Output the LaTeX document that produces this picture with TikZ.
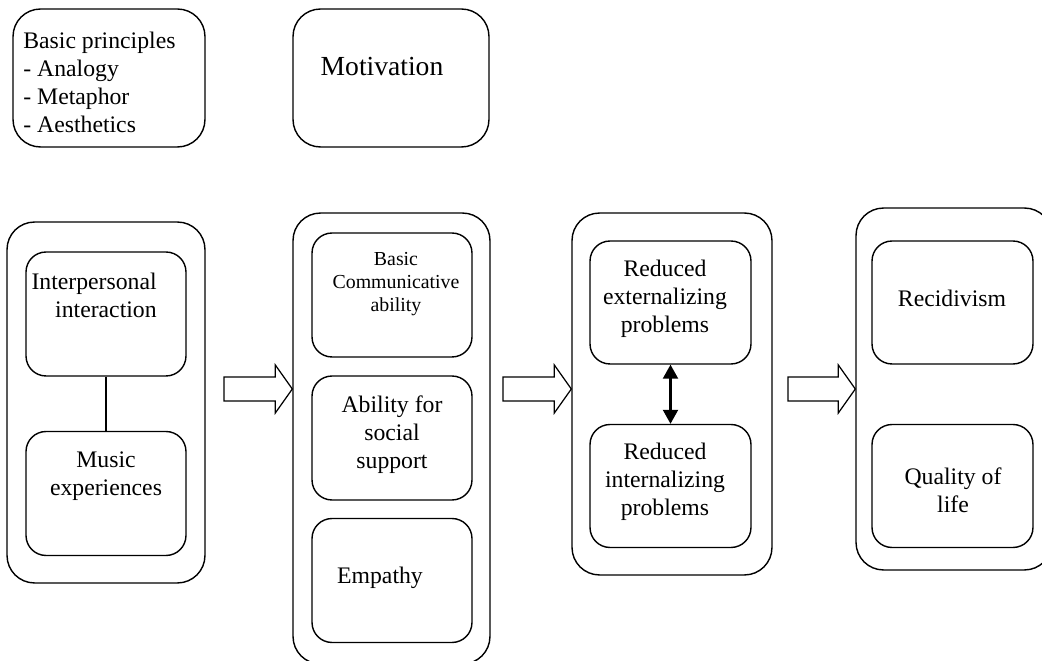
\documentclass[tikz,border=0pt]{standalone}
\usepackage{fontspec}
\setmainfont{Liberation Serif}
\usetikzlibrary{calc,arrows.meta}
\newcommand{\fatarrow}[2]{\draw[line width=0.7pt] ($(#1)+(0,-12)$) -- ($(#2)+(-17,-12)$) -- ($(#2)+(-17,-24)$) -- (#2) -- ($(#2)+(-17,24)$) -- ($(#2)+(-17,12)$) -- ($(#1)+(0,12)$) -- cycle;}
\begin{document}
\begin{tikzpicture}[x=0.02cm,y=-0.02cm]
    \tikzset{outer/.style = {draw,rounded corners=0.55cm,line width=0.8pt,inner sep=0pt}}
    \tikzset{inner/.style = {draw,rounded corners=0.4cm,line width=0.8pt,minimum width=3.2cm,minimum height=2.48cm,inner sep=0pt}}
    \tikzset{txt/.style = {inner sep=0pt,align=center,font=\fontsize{13.5}{15.9}\selectfont}}
    \useasboundingbox (0,0) rectangle (1042,661);
    % boxes on top
    \node[outer,minimum width=3.84cm,minimum height=2.76cm] (bp) at (109,78) {};
    \node[outer,minimum width=3.92cm,minimum height=2.76cm] (mot) at (391,78) {};
    \node[txt,align=left,anchor=west] (bpt) at (23,82.5) {Basic principles\\- Analogy\\- Metaphor\\- Aesthetics};
    \node[txt,font=\fontsize{15.7}{18}\selectfont] (mott) at (382,67) {Motivation};
    % outer groups
    \node[outer,minimum width=3.96cm,minimum height=7.22cm] (g1) at (106,402.5) {};
    \node[outer,minimum width=3.94cm,minimum height=9.02cm] (g2) at (391.5,438.5) {};
    \node[outer,minimum width=4.0cm,minimum height=7.24cm] (g3) at (672,394) {};
    \node[outer,minimum width=3.92cm,minimum height=7.24cm] (g4) at (954,389) {};
    % first group
    \node[inner] (int) at (106,314) {};
    \node[inner] (mus) at (106,493.5) {};
    \node[txt,align=right,anchor=east] (intt) at (157,295.5) {Interpersonal\\interaction};
    \node[txt] (must) at (106,476) {Music\\experiences};
    \draw[line width=0.8pt] (int) -- (mus);
    % second group
    \node[inner] (com) at (392,295) {};
    \node[inner] (soc) at (392,438) {};
    \node[inner] (emp) at (392,580.5) {};
    \node[txt,font=\fontsize{11.3}{13}\selectfont] (comt) at (396,284) {Basic\\Communicative\\ability};
    \node[txt] (soct) at (392,434.5) {Ability for\\social\\support};
    \node[txt] (empt) at (380,578) {Empathy};
    % third group
    \node[inner,minimum width=3.22cm,minimum height=2.46cm] (ext) at (670.5,302.5) {};
    \node[inner,minimum width=3.22cm,minimum height=2.46cm] (inn) at (670.5,486) {};
    \node[txt] (extt) at (665,299) {Reduced\\externalizing\\problems};
    \node[txt] (innt) at (665,482) {Reduced\\internalizing\\problems};
    \draw[{Triangle[width=0.3cm,length=0.28cm]}-{Triangle[width=0.3cm,length=0.28cm]},line width=1.2pt] (ext) -- (inn);
    % fourth group
    \node[inner,minimum width=3.22cm,minimum height=2.46cm] (rec) at (952.5,302.5) {};
    \node[inner,minimum width=3.22cm,minimum height=2.46cm] (qol) at (952.5,486) {};
    \node[txt] (rect) at (952,298) {Recidivism};
    \node[txt] (qolt) at (953,490) {Quality of\\life};
    % block arrows between groups
    \coordinate (a1s) at (224,389);
    \coordinate (a2s) at (503,389);
    \coordinate (a3s) at (788,389);
    \coordinate (a1t) at (g2.west |- a1s);
    \coordinate (a2t) at (g3.west |- a2s);
    \coordinate (a3t) at (g4.west |- a3s);
    \fatarrow{a1s}{a1t}
    \fatarrow{a2s}{a2t}
    \fatarrow{a3s}{a3t}
\end{tikzpicture}
\end{document}
